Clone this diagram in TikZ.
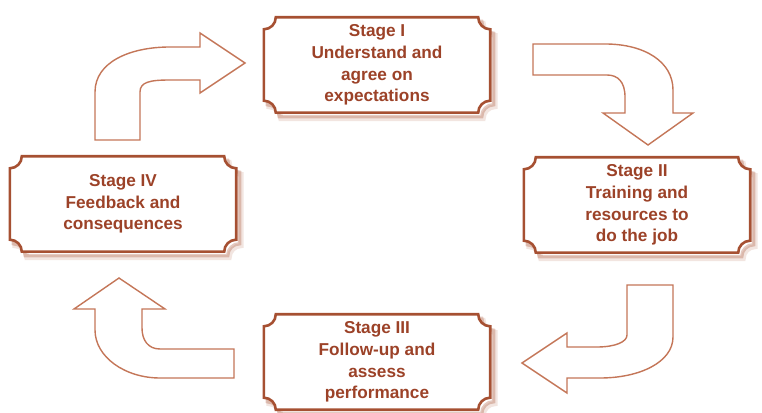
\documentclass[tikz,border=0pt]{standalone}
\usepackage{fontspec}
\setmainfont{Liberation Sans}
\usepackage{tikz}
\usetikzlibrary{calc,backgrounds}
\definecolor{stageline}{RGB}{166,80,50}
\definecolor{stagetext}{RGB}{156,66,40}
\definecolor{arrowline}{RGB}{196,118,88}
\tikzstyle{stage}=[text=stagetext, align=center, font=\fontsize{17.2}{21.7}\selectfont\bfseries, minimum width=226pt, minimum height=95pt, inner sep=0pt]
\tikzstyle{frame}=[draw=stageline, line width=2.6pt, fill=white]
\tikzstyle{shade}=[draw=stageline, line width=3.5pt, opacity=.3]
\tikzstyle{bent}=[draw=arrowline, line width=1.4pt, line join=miter, fill=white]
\newcommand{\ticket}[2]{
	\draw[#1] ($(#2.south west)+(12pt,0)$) -- ($(#2.south east)+(-12pt,0)$) arc (180:90:12pt)
		-- ($(#2.north east)+(0,-12pt)$) arc (270:180:12pt)
		-- ($(#2.north west)+(12pt,0)$) arc (0:-90:12pt)
		-- ($(#2.south west)+(0,12pt)$) arc (90:0:12pt) -- cycle;
}

\begin{document}
\begin{tikzpicture}[x=1pt, y=1pt]
	\useasboundingbox (0,0) rectangle (762,412);
%
	\node[stage] (one) at (377,347) {Stage I\\Understand and\\agree on\\expectations};
	\node[stage] (two) at (637,207) {Stage II\\Training and\\resources to\\do the job};
	\node[stage] (three) at (377,50) {Stage III\\Follow-up and\\assess\\performance};
	\node[stage] (four) at (123,208) {Stage IV\\Feedback and\\consequences};
%
	\begin{scope}[on background layer]
		\foreach \s in {one,two,three,four}{
			\ticket{shade, transform canvas={shift={(3.5pt,-4pt)}}}{\s}
			\ticket{shade, opacity=.15, line width=5pt, transform canvas={shift={(5pt,-6pt)}}}{\s}
			\ticket{frame}{\s}
		}
	\end{scope}
%
	% bent arrows between the stages
	\draw[bent] (95,272) -- (95,320) .. controls (95,350) and (130,365) .. (170,365) -- (200,365) -- (200,379)
		-- (245,349) -- (200,319) -- (200,332) -- (170,332) .. controls (150,332) and (140,330) .. (140,320) -- (140,272) -- cycle;
	\draw[bent] (533,368) -- (605,368) .. controls (645,368) and (673,350) .. (673,322) -- (673,299) -- (693,299)
		-- (648,267) -- (603,299) -- (625,299) -- (625,315) .. controls (625,330) and (618,337) .. (607,337) -- (533,337) -- cycle;
	\draw[bent] (627,127) -- (673,127) -- (673,75) .. controls (673,50) and (640,34) .. (600,34) -- (567,34) -- (567,19)
		-- (522,49) -- (567,79) -- (567,65) -- (597,65) .. controls (615,65) and (627,70) .. (627,77) -- cycle;
	\draw[bent] (234,63) -- (160,63) .. controls (148,63) and (142,72) .. (142,84) -- (142,103) -- (165,103)
		-- (119,134) -- (74,103) -- (95,103) -- (95,82) .. controls (95,55) and (125,34) .. (160,34) -- (234,34) -- cycle;
\end{tikzpicture}
\end{document}
